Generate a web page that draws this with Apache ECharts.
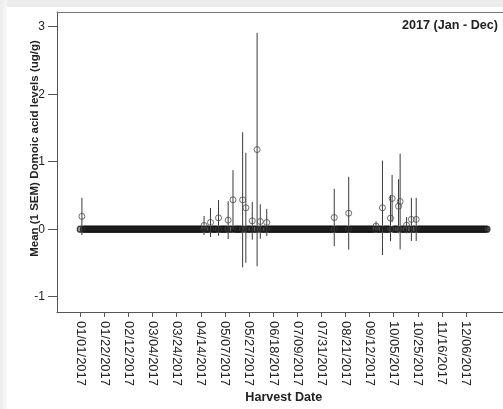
<!DOCTYPE html>
<html>
<head>
<meta charset="utf-8">
<script src="https://cdn.jsdelivr.net/npm/echarts@6/dist/echarts.min.js"></script>
<style>
  html, body { margin: 0; padding: 0; background: #ffffff; }
  #chart { width: 503px; height: 409px; }
</style>
</head>
<body>
<div id="chart"></div>
<script>
// Harvest dates are plotted in sampling order; one slot per harvest date.
const harvestCount = 254;

// Date labels shown on the x axis and the harvest slot each one sits at.
const tickPositions = [0, 15, 30, 45, 60, 75, 90, 105, 120, 135, 150, 165, 180, 195, 210, 225, 240];
const tickLabels = ['01/01/2017', '01/22/2017', '02/12/2017', '03/04/2017', '03/24/2017', '04/14/2017',
  '05/07/2017', '05/27/2017', '06/18/2017', '07/09/2017', '07/31/2017', '08/21/2017', '09/12/2017',
  '10/05/2017', '10/25/2017', '11/16/2017', '12/06/2017'];

// Harvests with detectable domoic acid: slot, mean (ug/g) and 1 SEM.
const peakIndex = [1, 77, 81, 86, 92, 95, 101, 103, 107, 110, 112, 116, 158, 167, 184, 188, 193, 194, 198, 199, 203, 206, 209];
const peakMean  = [0.19, 0.055, 0.10, 0.168, 0.134, 0.435, 0.435, 0.317, 0.124, 1.18, 0.114, 0.10, 0.173, 0.237, 0.045, 0.317, 0.163, 0.455, 0.34, 0.41, 0.06, 0.145, 0.145];
const peakSem   = [0.275, 0.14, 0.215, 0.265, 0.28, 0.44, 1.0, 0.815, 0.28, 1.73, 0.255, 0.2, 0.425, 0.54, 0.07, 0.70, 0.34, 0.35, 0.4, 0.71, 0.12, 0.32, 0.32];

const yTicks = [-1, 0, 1, 2, 3];

// Every other harvest date measured 0 ug/g.
const zeroPoints = [];
for (let i = 0; i < harvestCount; i++) {
  if (peakIndex.indexOf(i) < 0) zeroPoints.push([i, 0]);
}
const peakPoints = peakIndex.map((d, k) => [d, peakMean[k]]);
const errorData = peakIndex.map((d, k) => [d, peakMean[k] - peakSem[k], peakMean[k] + peakSem[k]]);

const FONT = 'Arial, "Liberation Sans", sans-serif';
const INK = '#222';

const chart = echarts.init(document.getElementById('chart'), null, { renderer: 'canvas' });

chart.setOption({
  backgroundColor: '#ffffff',
  animation: false,
  grid: { left: 57, right: 0, top: 12, bottom: 97, containLabel: false },
  xAxis: [{
    type: 'value',
    min: -14.5,
    max: 263,
    splitLine: { show: false },
    axisLine: { show: true, onZero: false, lineStyle: { color: '#555', width: 1 } },
    axisTick: { show: true, length: 5, customValues: tickPositions, lineStyle: { color: '#555' } },
    axisLabel: {
      show: true,
      customValues: tickPositions,
      rotate: -90,
      margin: 9,
      fontFamily: FONT,
      fontSize: 13,
      color: INK,
      formatter: function (v) {
        const k = tickPositions.indexOf(Math.round(v));
        return k >= 0 ? tickLabels[k] : '';
      }
    }
  }, {
    type: 'value',
    position: 'top',
    min: -14.5,
    max: 263,
    splitLine: { show: false },
    axisLine: { show: true, onZero: false, lineStyle: { color: '#777', width: 1 } },
    axisTick: { show: false },
    axisLabel: { show: false }
  }],
  yAxis: {
    type: 'value',
    min: -1.227,
    max: 3.218,
    splitLine: { show: false },
    axisLine: { show: true, onZero: false, lineStyle: { color: '#555', width: 1 } },
    axisTick: { show: true, length: 9, customValues: yTicks, lineStyle: { color: '#555' } },
    axisLabel: {
      show: true,
      customValues: yTicks,
      margin: 12,
      fontFamily: FONT,
      fontSize: 12,
      color: INK
    }
  },
  series: [{
    type: 'scatter',
    data: zeroPoints,
    symbol: 'circle',
    symbolSize: 6,
    itemStyle: { color: 'rgba(40,40,40,0.55)', borderColor: '#151515', borderWidth: 1.3 },
    z: 2
  }, {
    type: 'custom',
    data: errorData,
    encode: { x: 0, y: [1, 2] },
    renderItem: function (params, api) {
      const lo = api.coord([api.value(0), api.value(1)]);
      const hi = api.coord([api.value(0), api.value(2)]);
      return {
        type: 'line',
        shape: { x1: lo[0], y1: lo[1], x2: hi[0], y2: hi[1] },
        style: { stroke: '#3a3a3a', lineWidth: 1 }
      };
    },
    z: 3
  }, {
    type: 'scatter',
    data: peakPoints,
    symbol: 'circle',
    symbolSize: 6,
    itemStyle: { color: 'rgba(0,0,0,0)', borderColor: '#4a4a4a', borderWidth: 1 },
    z: 4
  }],
  graphic: [{
    type: 'rect',
    shape: { x: 0, y: 0, width: 503, height: 7 },
    style: { fill: '#ececec' },
    z: -10
  }, {
    type: 'rect',
    shape: { x: 0, y: 0, width: 7, height: 409 },
    style: { fill: new echarts.graphic.LinearGradient(0, 0, 1, 0, [
      { offset: 0, color: '#ececec' }, { offset: 1, color: '#f8f8f8' }
    ]) },
    z: -10
  }, {
    type: 'text',
    x: 35,
    y: 148.5,
    rotation: Math.PI / 2,
    style: {
      text: 'Mean (1 SEM) Domoic acid levels (ug/g)',
      fontFamily: FONT,
      fontWeight: 'bold',
      fontSize: 11.5,
      fill: INK,
      align: 'center',
      verticalAlign: 'middle'
    }
  }, {
    type: 'text',
    x: 283.8,
    y: 398,
    style: {
      text: 'Harvest Date',
      fontFamily: FONT,
      fontWeight: 'bold',
      fontSize: 12.6,
      fill: INK,
      align: 'center',
      verticalAlign: 'middle'
    }
  }, {
    type: 'text',
    x: 498,
    y: 25.7,
    style: {
      text: '2017 (Jan - Dec)',
      fontFamily: FONT,
      fontWeight: 'bold',
      fontSize: 12.6,
      fill: INK,
      align: 'right',
      verticalAlign: 'middle'
    }
  }]
});
</script>
</body>
</html>
